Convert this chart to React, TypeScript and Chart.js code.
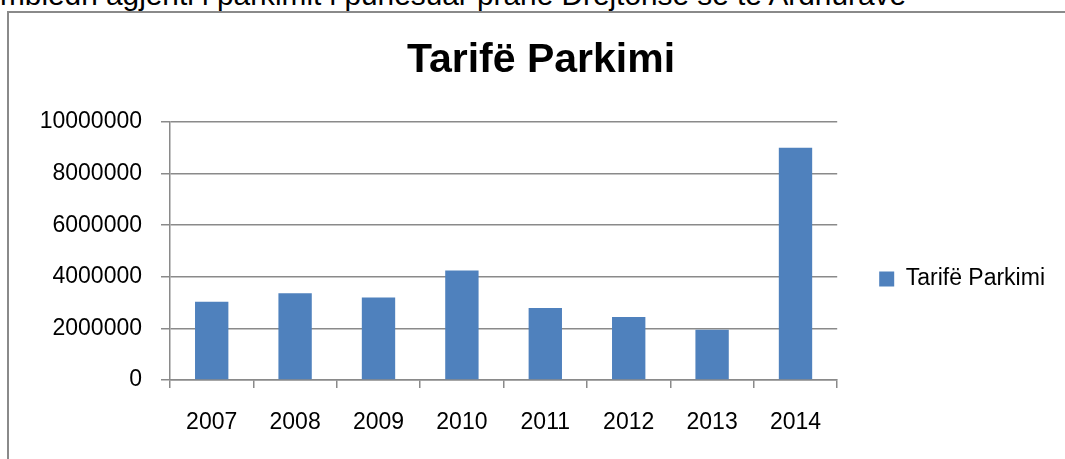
import React, { useEffect, useRef } from "react";
import { Chart, registerables } from "chart.js";

Chart.register(...registerables);

const CATEGORIES = ["2007", "2008", "2009", "2010", "2011", "2012", "2013", "2014"];
const VALUES = [3030000, 3360000, 3200000, 4240000, 2790000, 2440000, 1950000, 9000000];
const SERIES_LABEL = "Tarifë Parkimi";
const TITLE = "Tarifë Parkimi";
const Y_MIN = 0;
const Y_MAX = 10000000;
const Y_STEP = 2000000;
const HEADER_TEXT = "mbledh agjenti i parkimit i punësuar pranë Drejtorisë së të Ardhurave";

const FONT = "'Liberation Sans', Arial, sans-serif";
const GRID = "#8a8a8a";
const BAR = "#4F81BD";

const CANVAS_W = 1068;
const CANVAS_H = 532;

export default function App() {
  const ref = useRef<HTMLCanvasElement | null>(null);

  useEffect(() => {
    if (!ref.current) return;
    const chart = new Chart(ref.current, {
      type: "bar",
      data: {
        labels: CATEGORIES,
        datasets: [
          {
            label: SERIES_LABEL,
            data: VALUES,
            backgroundColor: BAR,
            borderWidth: 0,
            barPercentage: 0.4,
            categoryPercentage: 1,
          },
        ],
      },
      options: {
        responsive: false,
        animation: false,
        devicePixelRatio: 1,
        layout: { padding: { left: 18, right: 22, top: 0, bottom: 0 } },
        plugins: {
          title: {
            display: true,
            text: TITLE,
            color: "#000",
            font: { family: FONT, size: 41, weight: "bold" },
            padding: { top: 23, bottom: 36.8 },
          },
          legend: {
            position: "right",
            maxWidth: 218,
            labels: {
              boxWidth: 15,
              boxHeight: 15,
              padding: 42,
              color: "#000",
              font: { family: FONT, size: 23 },
            },
          },
          tooltip: { enabled: false },
        },
        scales: {
          x: {
            grid: {
              drawOnChartArea: false,
              drawTicks: true,
              tickLength: 8,
              color: GRID,
              lineWidth: 1.5,
              offset: true,
            },
            border: { color: GRID, width: 1.5 },
            ticks: {
              color: "#000",
              font: { family: FONT, size: 23 },
              padding: 21,
              maxRotation: 0,
            },
            afterFit: (s: any) => {
              s.height = CANVAS_H - 367;
            },
          },
          y: {
            min: Y_MIN,
            max: Y_MAX,
            grid: { color: GRID, lineWidth: 1.5, tickLength: 9 },
            border: { color: GRID, width: 1.5 },
            ticks: {
              stepSize: Y_STEP,
              color: "#000",
              font: { family: FONT, size: 23 },
              padding: 19,
              callback: (v: any) => String(v),
            },
            afterFit: (s: any) => {
              s.width = 143;
            },
          },
        },
      },
    });
    return () => chart.destroy();
  }, []);

  return (
    <div
      style={{
        position: "fixed",
        left: 0,
        top: 0,
        width: 1065,
        height: 459,
        overflow: "hidden",
        background: "#fff",
      }}
    >
      <div
        style={{
          position: "absolute",
          left: 0,
          top: -20.5,
          fontFamily: FONT,
          fontSize: 29.8,
          lineHeight: 1,
          whiteSpace: "nowrap",
          color: "#000",
        }}
      >
        {HEADER_TEXT}
      </div>
      <div
        style={{
          position: "absolute",
          left: 7,
          top: 11,
          width: CANVAS_W,
          height: 600,
          border: "2px solid #8a8a8a",
        }}
      >
        <canvas
          ref={ref}
          width={CANVAS_W}
          height={CANVAS_H}
          style={{ display: "block", width: CANVAS_W, height: CANVAS_H }}
        />
      </div>
    </div>
  );
}
